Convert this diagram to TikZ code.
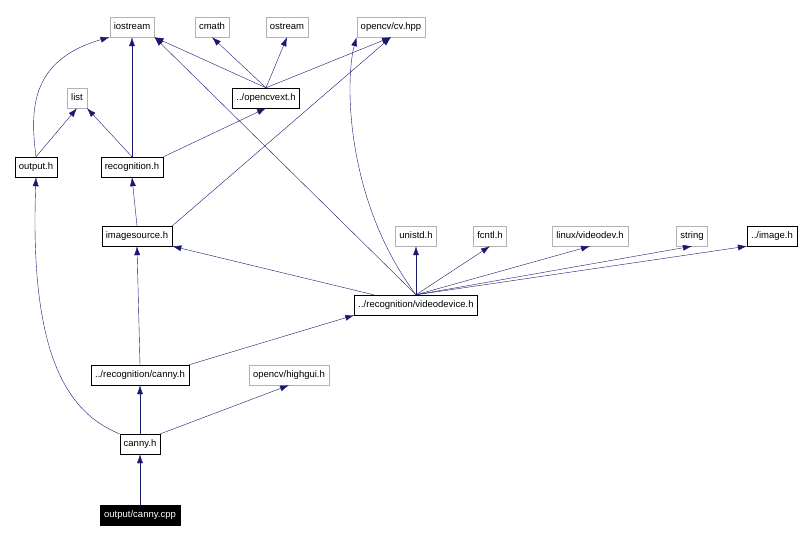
\documentclass[tikz,border=0pt]{standalone}
\usepackage{fontspec}
\setmainfont{Liberation Sans}
\usetikzlibrary{arrows.meta}
\definecolor{edgeblue}{HTML}{191970}
\tikzset{
  file/.style={draw=black, fill=white, font=\fontsize{9.5}{11}\selectfont, inner sep=0pt,
    minimum height=20pt, text height=7pt, text depth=2pt, inner xsep=4pt},
  sysfile/.style={file, draw=gray!60},
  root/.style={file, fill=black, text=white},
  inc/.style={draw=edgeblue, -{Latex[length=9pt,width=6pt]}}
}
\begin{document}
\begin{tikzpicture}[x=1pt, y=-1pt]
  \useasboundingbox (0,0) rectangle (812,540);
  % files
  \node[sysfile] (iostream) at (132,27) {iostream};
  \node[sysfile] (cmath) at (212,27) {cmath};
  \node[sysfile] (ostream) at (287,27) {ostream};
  \node[sysfile] (cvhpp) at (391,27) {opencv/cv.hpp};
  \node[sysfile] (list) at (77,98) {list};
  \node[file] (opencvext) at (266,98) {../opencvext.h};
  \node[file] (output) at (36,167) {output.h};
  \node[file] (recognition) at (132,167) {recognition.h};
  \node[file] (imagesource) at (137,236) {imagesource.h};
  \node[sysfile] (unistd) at (416,236) {unistd.h};
  \node[sysfile] (fcntl) at (490,236) {fcntl.h};
  \node[sysfile] (videodev) at (590,236) {linux/videodev.h};
  \node[sysfile] (string) at (692,236) {string};
  \node[file] (image) at (772,236) {../image.h};
  \node[file] (videodevice) at (416,305) {../recognition/videodevice.h};
  \node[file] (canny) at (140,375) {../recognition/canny.h};
  \node[sysfile] (highgui) at (289,375) {opencv/highgui.h};
  \node[file] (cannyh) at (140,444) {canny.h};
  \node[root] (cannycpp) at (140,515) {output/canny.cpp};
  % includes
  \draw[inc] (cannycpp) -- (cannyh);
  \draw[inc] (cannyh) -- (canny);
  \draw[inc] (cannyh.north east) -- (highgui.south);
  \draw[inc] (cannyh.north west) .. controls (60,410) and (30,340) .. (output.south);
  \draw[inc] (canny.north) -- (imagesource.south);
  \draw[inc] (canny.north east) -- (videodevice.south west);
  \draw[inc] (videodevice) -- (imagesource.south east);
  \draw[inc] (videodevice.north) -- (iostream.south east);
  \draw[inc] (videodevice.north) .. controls (345,200) and (345,80) .. (cvhpp.south west);
  \draw[inc] (videodevice) -- (unistd);
  \draw[inc] (videodevice.north) -- (fcntl.south);
  \draw[inc] (videodevice.north) -- (videodev.south);
  \draw[inc] (videodevice.north) -- (string.south);
  \draw[inc] (videodevice.north) -- (image.south west);
  \draw[inc] (imagesource.north) -- (recognition.south);
  \draw[inc] (imagesource.north east) -- (cvhpp.south);
  \draw[inc] (recognition.north) -- (iostream.south);
  \draw[inc] (recognition.north) -- (list.south east);
  \draw[inc] (recognition.north east) -- (opencvext.south);
  \draw[inc] (output.north) -- (list.south);
  \draw[inc] (output.north) .. controls (30,110) and (30,60) .. (iostream.south west);
  \draw[inc] (opencvext.north) -- (iostream.south east);
  \draw[inc] (opencvext.north) -- (cmath.south);
  \draw[inc] (opencvext.north) -- (ostream.south);
  \draw[inc] (opencvext.north) -- (cvhpp.south);
\end{tikzpicture}
\end{document}
